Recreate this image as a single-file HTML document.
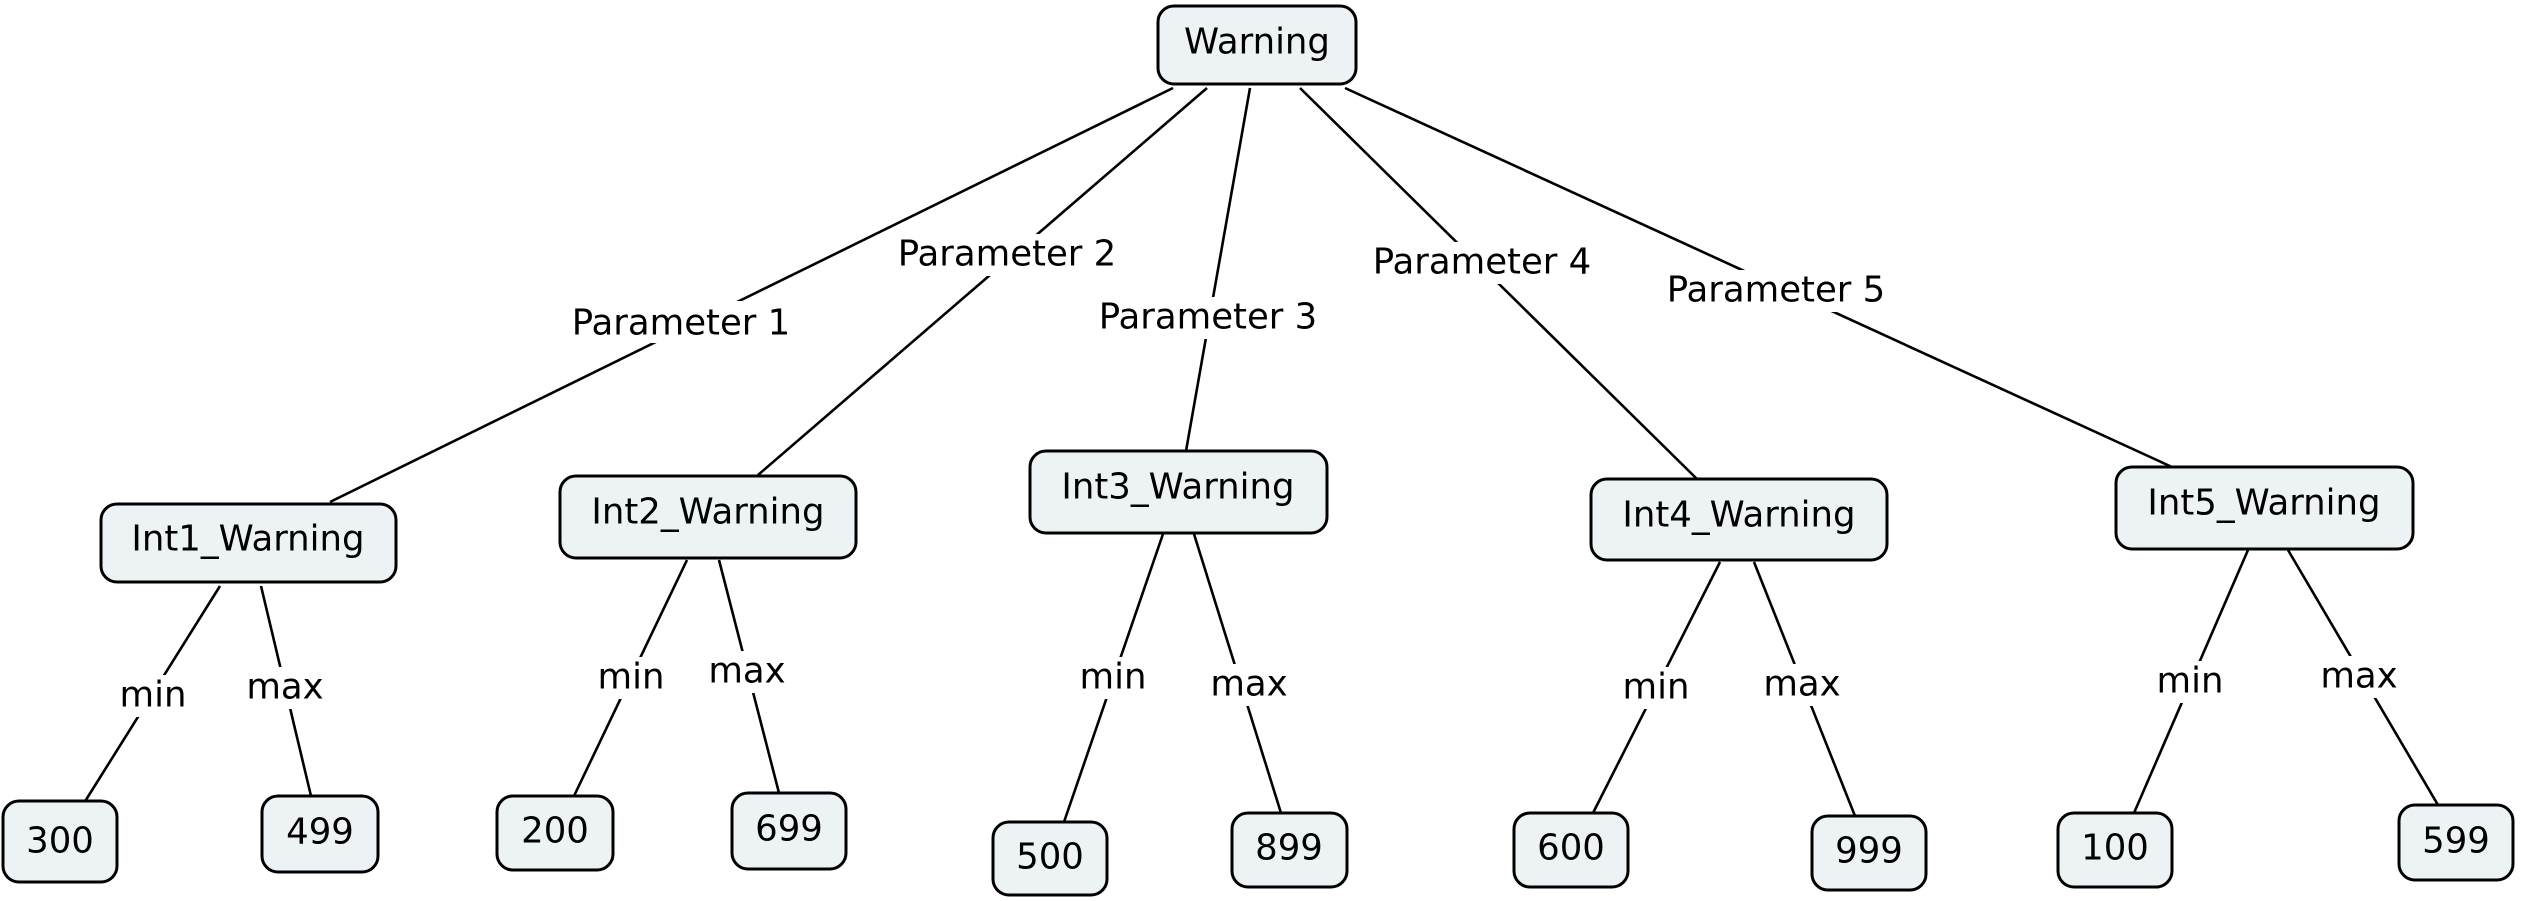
<!DOCTYPE html>
<html><head><meta charset="utf-8"><style>
html,body{margin:0;padding:0;background:#fff;}
svg{display:block}
text{font-family:"DejaVu Sans","Liberation Sans",sans-serif;font-size:35.5px;fill:#000;}
.n{fill:#edf3f5;stroke:#000;stroke-width:3}
.l{stroke:#000;stroke-width:2.6}
.lb{fill:#fff}
</style></head><body>
<svg width="2523" height="901" viewBox="0 0 2523 901" xmlns="http://www.w3.org/2000/svg">
<g class="l">
<line x1="1173" y1="88" x2="330" y2="502"/>
<line x1="1207" y1="88" x2="758" y2="475"/>
<line x1="1250" y1="88" x2="1186" y2="451"/>
<line x1="1300" y1="88" x2="1697" y2="479"/>
<line x1="1345" y1="88" x2="2172" y2="467"/>
<line x1="220" y1="586" x2="84" y2="803"/>
<line x1="261" y1="586" x2="311" y2="796"/>
<line x1="687" y1="560" x2="574" y2="796"/>
<line x1="719" y1="560" x2="779" y2="793"/>
<line x1="1163" y1="534" x2="1064" y2="822"/>
<line x1="1194" y1="534" x2="1281" y2="813"/>
<line x1="1720" y1="562" x2="1593" y2="813"/>
<line x1="1754" y1="562" x2="1855" y2="816"/>
<line x1="2248" y1="550" x2="2134" y2="813"/>
<line x1="2288" y1="550" x2="2438" y2="805"/>
</g>
<g class="lb">
<rect x="556" y="301" width="250" height="42"/>
<rect x="881" y="234" width="252" height="42"/>
<rect x="1083" y="297" width="250" height="42"/>
<rect x="1357" y="242" width="250" height="42"/>
<rect x="1651" y="270" width="250" height="42"/>
<rect x="114" y="675" width="78" height="42"/>
<rect x="241" y="667" width="88" height="42"/>
<rect x="592" y="657" width="78" height="42"/>
<rect x="703" y="651" width="88" height="42"/>
<rect x="1074" y="657" width="78" height="42"/>
<rect x="1205" y="664" width="88" height="42"/>
<rect x="1617" y="667" width="78" height="42"/>
<rect x="1758" y="664" width="88" height="42"/>
<rect x="2151" y="661" width="78" height="42"/>
<rect x="2315" y="656" width="88" height="42"/>
</g>
<g text-anchor="middle" dominant-baseline="central">
<text x="681" y="323">Parameter 1</text>
<text x="1007" y="254">Parameter 2</text>
<text x="1208" y="317">Parameter 3</text>
<text x="1482" y="262">Parameter 4</text>
<text x="1776" y="290">Parameter 5</text>
<text x="153" y="695">min</text>
<text x="285" y="687">max</text>
<text x="631" y="677">min</text>
<text x="747" y="671">max</text>
<text x="1113" y="677">min</text>
<text x="1249" y="684">max</text>
<text x="1656" y="687">min</text>
<text x="1802" y="684">max</text>
<text x="2190" y="681">min</text>
<text x="2359" y="676">max</text>
</g>
<g>
<rect class="n" x="1158" y="6" width="198" height="78" rx="16"/>
<rect class="n" x="101" y="504" width="295" height="78" rx="16"/>
<rect class="n" x="560" y="476" width="296" height="82" rx="16"/>
<rect class="n" x="1030" y="451" width="297" height="82" rx="16"/>
<rect class="n" x="1591" y="479" width="296" height="81" rx="16"/>
<rect class="n" x="2116" y="467" width="297" height="82" rx="16"/>
<rect class="n" x="3" y="801" width="114" height="81" rx="16"/>
<rect class="n" x="262" y="796" width="116" height="76" rx="16"/>
<rect class="n" x="497" y="796" width="116" height="74" rx="16"/>
<rect class="n" x="732" y="793" width="114" height="76" rx="16"/>
<rect class="n" x="993" y="822" width="114" height="73" rx="16"/>
<rect class="n" x="1232" y="813" width="115" height="74" rx="16"/>
<rect class="n" x="1514" y="813" width="114" height="74" rx="16"/>
<rect class="n" x="1812" y="816" width="114" height="74" rx="16"/>
<rect class="n" x="2058" y="813" width="114" height="74" rx="16"/>
<rect class="n" x="2399" y="805" width="114" height="75" rx="16"/>
</g>
<g text-anchor="middle" dominant-baseline="central">
<text x="1257" y="42">Warning</text>
<text x="248" y="539">Int1_Warning</text>
<text x="708" y="512">Int2_Warning</text>
<text x="1178" y="487">Int3_Warning</text>
<text x="1739" y="515">Int4_Warning</text>
<text x="2264" y="503">Int5_Warning</text>
<text x="60" y="841">300</text>
<text x="320" y="832">499</text>
<text x="555" y="831">200</text>
<text x="789" y="829">699</text>
<text x="1050" y="857">500</text>
<text x="1289" y="848">899</text>
<text x="1571" y="848">600</text>
<text x="1869" y="851">999</text>
<text x="2115" y="848">100</text>
<text x="2456" y="841">599</text>
</g>
</svg>
</body></html>
